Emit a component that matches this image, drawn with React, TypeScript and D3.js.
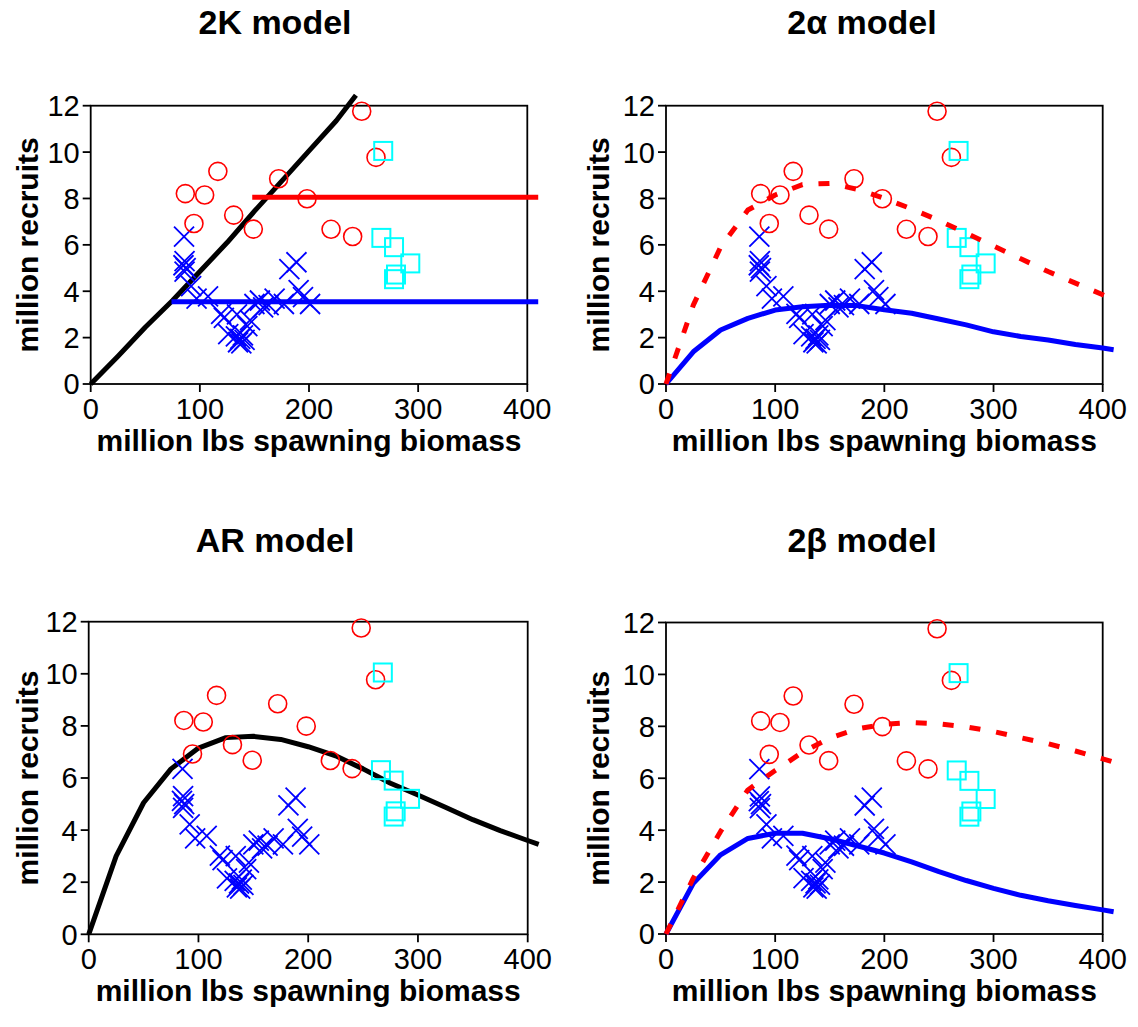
import React from 'react';
import * as d3 from 'd3';

// ---------- data ----------
const circleX = [86.7, 94.6, 104.4, 116.5, 131, 149, 172.2, 198.2, 220.2, 240, 248.3, 261.4];
const circleY = [8.21, 6.92, 8.15, 9.17, 7.28, 6.68, 8.85, 7.99, 6.67, 6.36, 11.76, 9.77];

const squareX = [268, 266.3, 277.9, 292.8, 279.7, 277.9];
const squareY = [10.05, 6.3, 5.9, 5.2, 4.72, 4.52];

const crossX = [85.5, 86.0, 85.0, 87.0, 86.0, 92.0, 97.0, 107.5, 119.5, 122.0, 126.0, 134.0, 133.0, 135.0, 137.0, 138.0, 139.5, 141.0, 143.5, 146.0, 150.0, 155.0, 158.0, 163.0, 168.5, 177.0, 182.0, 188.5, 190.5, 194.5, 201.0];
const crossY = [6.35, 5.3, 5.12, 5.0, 4.85, 4.22, 3.68, 3.78, 3.02, 2.85, 2.15, 3.0, 2.05, 1.8, 1.95, 1.75, 2.1, 1.9, 2.5, 2.75, 3.45, 3.6, 3.3, 3.4, 3.68, 3.45, 4.95, 5.25, 4.05, 3.75, 3.45];

const gridX = [0, 25, 50, 75, 100, 125, 150, 175, 200, 225, 250, 275, 300, 325, 350, 375, 400, 410];

const k2BlackX = [0, 25, 50, 75, 100, 125, 150, 175, 200, 225, 243];
const k2BlackY = [0, 1.2, 2.45, 3.6, 4.85, 6.1, 7.45, 8.75, 10.05, 11.35, 12.45];
const k2RedX = [148, 410];
const k2RedY = [8.05, 8.05];
const k2BlueX = [74, 410];
const k2BlueY = [3.55, 3.55];

const alphaRedY = [0, 3.4, 5.9, 7.5, 8.15, 8.6, 8.65, 8.4, 8.0, 7.55, 7.05, 6.5, 5.95, 5.4, 4.85, 4.35, 3.85, 3.65];
const alphaBlueY = [0, 1.39, 2.33, 2.83, 3.19, 3.33, 3.4, 3.38, 3.2, 3.05, 2.8, 2.55, 2.25, 2.05, 1.9, 1.7, 1.55, 1.48];
const arBlackY = [0, 3.0, 5.05, 6.35, 7.15, 7.55, 7.6, 7.48, 7.2, 6.85, 6.35, 5.8, 5.35, 4.88, 4.4, 3.98, 3.6, 3.45];
const betaRedY = [0, 2.15, 3.95, 5.55, 6.3, 7.0, 7.55, 7.9, 8.08, 8.15, 8.1, 7.98, 7.8, 7.56, 7.33, 7.05, 6.75, 6.62];
const betaBlueY = [0, 1.95, 3.05, 3.68, 3.88, 3.88, 3.67, 3.4, 3.12, 2.78, 2.4, 2.06, 1.76, 1.49, 1.28, 1.1, 0.93, 0.86];

const xTicks = [0, 100, 200, 300, 400];
const yTicks = [0, 2, 4, 6, 8, 10, 12];
const titles = ['2K model', '2\u03b1 model', 'AR model', '2\u03b2 model'];
const xTitle = 'million lbs spawning biomass';
const yTitle = 'million recruits';

// ---------- layout ----------
const FONT = "'Liberation Sans', Arial, sans-serif";
const RED = '#FF0000';
const BLUE = '#0000FF';
const CYAN = '#00FFFF';

type LineSpec = { xs: number[]; ys: number[]; color: string; dashed?: boolean; under?: boolean };

const panels = [
  { left: 90.7, right: 527.3, top: 105.7, bottom: 384, tx: 275, ty: 34, ylx: 38,
    lines: [
      { xs: k2BlackX, ys: k2BlackY, color: '#000000', under: true },
      { xs: k2RedX, ys: k2RedY, color: RED },
      { xs: k2BlueX, ys: k2BlueY, color: BLUE },
    ] as LineSpec[] },
  { left: 666, right: 1102.7, top: 105.7, bottom: 384, tx: 862, ty: 34, ylx: 609,
    lines: [
      { xs: gridX, ys: alphaBlueY, color: BLUE },
      { xs: gridX, ys: alphaRedY, color: RED, dashed: true },
    ] as LineSpec[] },
  { left: 88.7, right: 527.7, top: 621.7, bottom: 934.3, tx: 275, ty: 552, ylx: 38,
    lines: [
      { xs: gridX, ys: arBlackY, color: '#000000', under: true },
    ] as LineSpec[] },
  { left: 666, right: 1102.7, top: 622.5, bottom: 934, tx: 862, ty: 552, ylx: 609,
    lines: [
      { xs: gridX, ys: betaBlueY, color: BLUE },
      { xs: gridX, ys: betaRedY, color: RED, dashed: true },
    ] as LineSpec[] },
];

function Panel({ p, title }: { p: typeof panels[number]; title: string }) {
  const x = d3.scaleLinear().domain([0, 400]).range([p.left, p.right]);
  const y = d3.scaleLinear().domain([0, 12]).range([p.bottom, p.top]);
  const lineGen = d3.line<[number, number]>().x(d => x(d[0])).y(d => y(d[1]));
  const mkLine = (l: LineSpec, i: number) => (
    <path key={i} d={lineGen(l.xs.map((v, j) => [v, l.ys[j]] as [number, number])) || ''}
      fill="none" stroke={l.color} strokeWidth={5}
      strokeDasharray={l.dashed ? '11,16' : undefined} strokeLinejoin="round" />
  );
  const cx = (p.left + p.right) / 2;
  const cy = (p.top + p.bottom) / 2;
  return (
    <g>
      <text x={p.tx} y={p.ty} textAnchor="middle" fontFamily={FONT} fontWeight="bold" fontSize={34}>{title}</text>
      <rect x={p.left} y={p.top} width={p.right - p.left} height={p.bottom - p.top} fill="none" stroke="#000" strokeWidth={1.8} />
      {yTicks.map(t => (
        <g key={'y' + t}>
          <line x1={p.left - 8} x2={p.left} y1={y(t)} y2={y(t)} stroke="#000" strokeWidth={1.8} />
          <text x={p.left - 11} y={y(t)} dy="0.36em" textAnchor="end" fontFamily={FONT} fontSize={29}>{t}</text>
        </g>
      ))}
      {xTicks.map(t => (
        <g key={'x' + t}>
          <line x1={x(t)} x2={x(t)} y1={p.bottom} y2={p.bottom + 8} stroke="#000" strokeWidth={1.8} />
          <text x={x(t)} y={p.bottom + 35} textAnchor="middle" fontFamily={FONT} fontSize={29}>{t}</text>
        </g>
      ))}
      <text x={cx} y={p.bottom + 67} textAnchor="middle" fontFamily={FONT} fontWeight="bold" fontSize={30}>{xTitle}</text>
      <text transform={`translate(${p.ylx},${cy}) rotate(-90)`} textAnchor="middle" fontFamily={FONT} fontWeight="bold" fontSize={30}>{yTitle}</text>
      {p.lines.filter(l => l.under).map(mkLine)}
      {crossX.map((v, i) => (
        <path key={'c' + i} transform={`translate(${x(v)},${y(crossY[i])})`} d="M-10,-10L10,10M-10,10L10,-10" stroke={BLUE} strokeWidth={1.8} fill="none" />
      ))}
      {circleX.map((v, i) => (
        <circle key={'o' + i} cx={x(v)} cy={y(circleY[i])} r={9} fill="none" stroke={RED} strokeWidth={1.6} />
      ))}
      {squareX.map((v, i) => (
        <rect key={'s' + i} x={x(v) - 9} y={y(squareY[i]) - 9} width={18} height={18} fill="none" stroke={CYAN} strokeWidth={2} />
      ))}
      {p.lines.filter(l => !l.under).map(mkLine)}
    </g>
  );
}

export default function App() {
  return (
    <svg width={1138} height={1027} style={{ position: 'absolute', left: 0, top: 0, background: '#fff' }}>
      <rect width={1138} height={1027} fill="#fff" />
      {panels.map((p, i) => <Panel key={i} p={p} title={titles[i]} />)}
    </svg>
  );
}
